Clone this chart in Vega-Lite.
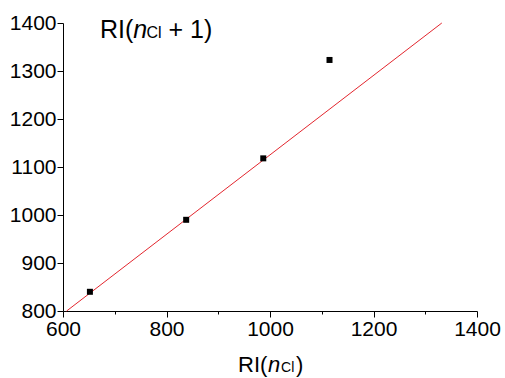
{
  "$schema": "https://vega.github.io/schema/vega-lite/v6.json",
  "width": 414,
  "height": 288,
  "autosize": {"type": "none"},
  "padding": {"left": 63, "top": 23, "right": 28, "bottom": 67},
  "background": "white",
  "config": {
    "view": {"stroke": null},
    "font": "Liberation Sans",
    "axis": {
      "grid": false,
      "domainColor": "#000000",
      "domainWidth": 1,
      "tickColor": "#000000",
      "tickWidth": 1,
      "labelColor": "#000000",
      "labelFont": "Liberation Sans",
      "labelFontSize": 21,
      "labelOverlap": false,
      "labelFlush": false,
      "labelPadding": 1,
      "title": null
    }
  },
  "datasets": {
    "points": [
      {"ri_n": 652, "ri_n1": 840},
      {"ri_n": 838, "ri_n1": 990},
      {"ri_n": 987, "ri_n1": 1118},
      {"ri_n": 1115, "ri_n1": 1323}
    ],
    "fit": [
      {"ri_n": 607, "ri_n1": 800},
      {"ri_n": 1332, "ri_n1": 1400}
    ],
    "one": [{"k": 1}]
  },
  "layer": [
    {
      "data": {"name": "fit"},
      "mark": {"type": "line", "color": "#e3262e", "strokeWidth": 1},
      "encoding": {
        "x": {
          "field": "ri_n", "type": "quantitative",
          "scale": {"domain": [600, 1400], "nice": false, "zero": false},
          "axis": {
            "values": [600, 700, 800, 900, 1000, 1100, 1200, 1300, 1400],
            "format": "d",
            "labelExpr": "datum.value % 200 === 0 ? datum.label : ''",
            "tickSize": {"condition": {"test": "datum.value % 200 === 0", "value": 6}, "value": 3}
          }
        },
        "y": {
          "field": "ri_n1", "type": "quantitative",
          "scale": {"domain": [800, 1400], "nice": false, "zero": false},
          "axis": {
            "values": [800, 850, 900, 950, 1000, 1050, 1100, 1150, 1200, 1250, 1300, 1350, 1400],
            "format": "d",
            "labelExpr": "datum.value % 100 === 0 ? datum.label : ''",
            "tickSize": {"condition": {"test": "datum.value % 100 === 0", "value": 6}, "value": 3}
          }
        }
      }
    },
    {
      "data": {"name": "points"},
      "mark": {"type": "square", "size": 36, "color": "#000000", "filled": true, "opacity": 1},
      "encoding": {
        "x": {"field": "ri_n", "type": "quantitative"},
        "y": {"field": "ri_n1", "type": "quantitative"}
      }
    },
    {
      "data": {"name": "one"},
      "mark": {"type": "text", "text": "RI(", "fontSize": 25, "align": "left", "baseline": "alphabetic", "color": "#000000"},
      "encoding": {"x": {"datum": 671.5}, "y": {"datum": 1368.8}}
    },
    {
      "data": {"name": "one"},
      "mark": {"type": "text", "text": "n", "fontSize": 25, "fontStyle": "italic", "align": "left", "baseline": "alphabetic", "color": "#000000"},
      "encoding": {"x": {"datum": 735.6}, "y": {"datum": 1368.8}}
    },
    {
      "data": {"name": "one"},
      "mark": {"type": "text", "text": "Cl", "fontSize": 16, "align": "left", "baseline": "alphabetic", "color": "#000000"},
      "encoding": {"x": {"datum": 761.4}, "y": {"datum": 1368.8}}
    },
    {
      "data": {"name": "one"},
      "mark": {"type": "text", "text": "+ 1)", "fontSize": 25, "align": "left", "baseline": "alphabetic", "color": "#000000"},
      "encoding": {"x": {"datum": 804}, "y": {"datum": 1368.8}}
    },
    {
      "data": {"name": "one"},
      "mark": {"type": "text", "text": "RI(", "fontSize": 22, "align": "left", "baseline": "alphabetic", "color": "#000000"},
      "encoding": {"x": {"datum": 938.2}, "y": {"datum": 672.9}}
    },
    {
      "data": {"name": "one"},
      "mark": {"type": "text", "text": "n", "fontSize": 22, "fontStyle": "italic", "align": "left", "baseline": "alphabetic", "color": "#000000"},
      "encoding": {"x": {"datum": 996.1}, "y": {"datum": 672.9}}
    },
    {
      "data": {"name": "one"},
      "mark": {"type": "text", "text": "Cl", "fontSize": 14, "align": "left", "baseline": "alphabetic", "color": "#000000"},
      "encoding": {"x": {"datum": 1021.3}, "y": {"datum": 672.9}}
    },
    {
      "data": {"name": "one"},
      "mark": {"type": "text", "text": ")", "fontSize": 22, "align": "left", "baseline": "alphabetic", "color": "#000000"},
      "encoding": {"x": {"datum": 1050.2}, "y": {"datum": 672.9}}
    }
  ]
}
